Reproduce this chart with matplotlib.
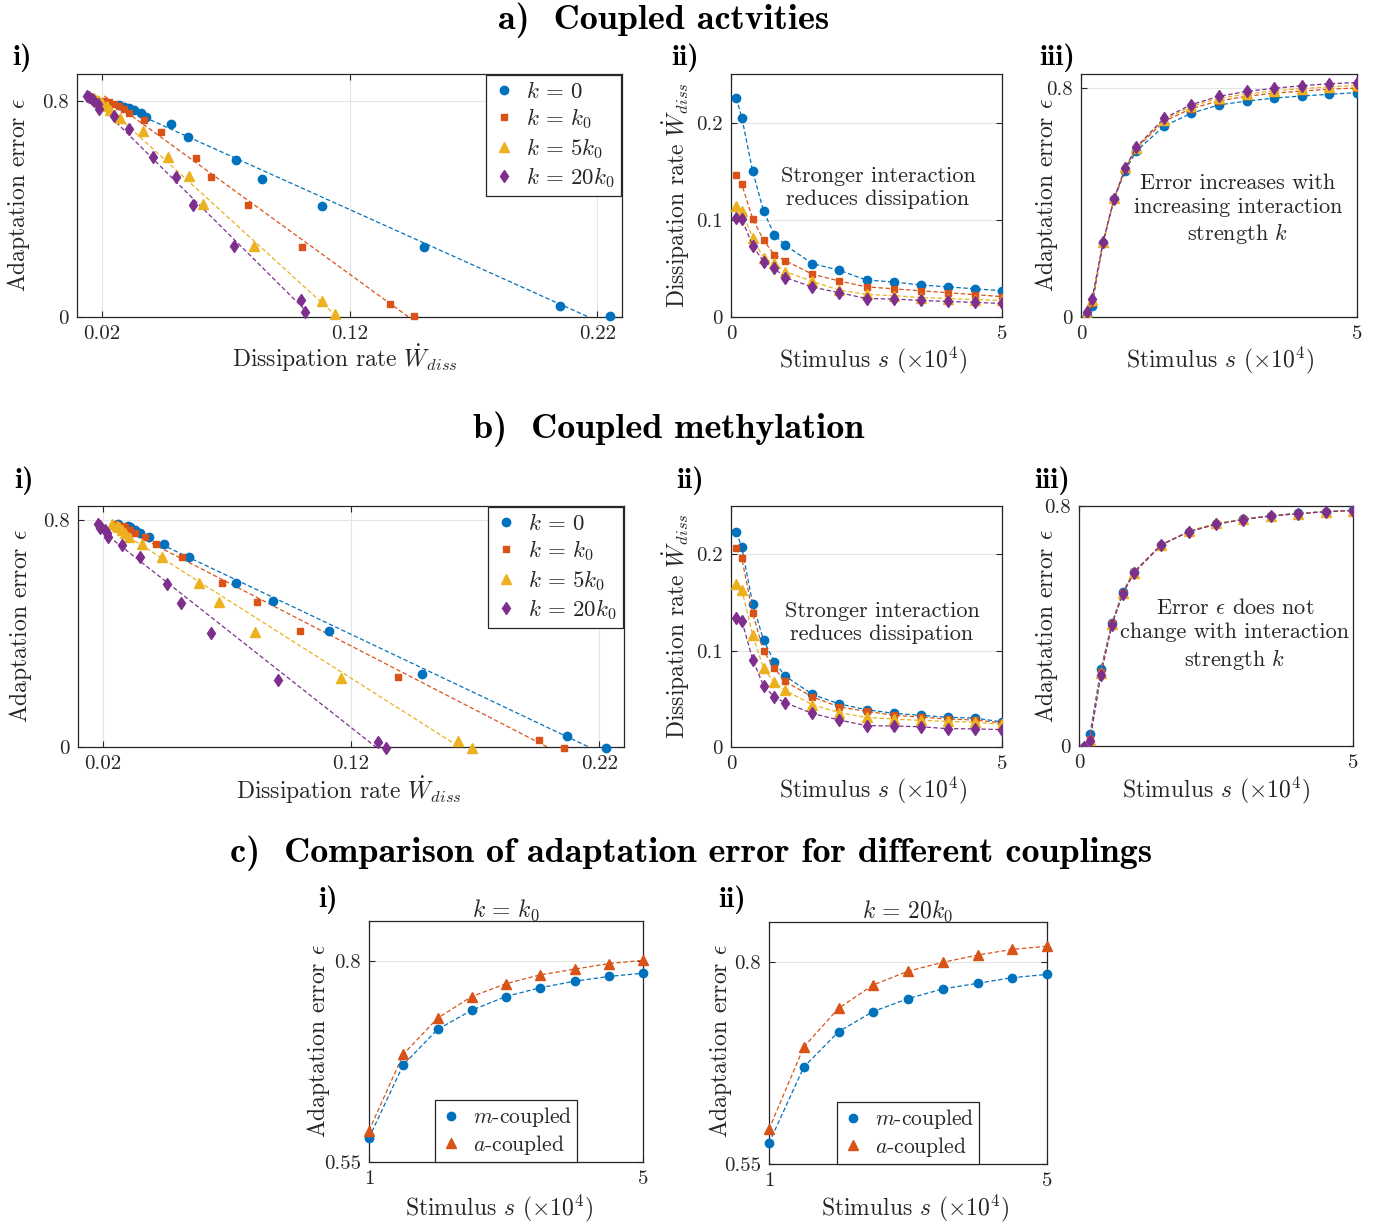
import numpy as np
import matplotlib
matplotlib.use('Agg')
import matplotlib.pyplot as plt

plt.rcParams['font.family'] = ['cmr10']
plt.rcParams['mathtext.fontset'] = 'cm'
plt.rcParams['axes.formatter.use_mathtext'] = True
plt.rcParams['axes.unicode_minus'] = False

# ---------------- data ----------------
stimulus = [0.1, 0.2, 0.4, 0.6, 0.8, 1.0, 1.5, 2.0, 2.5, 3.0, 3.5, 4.0, 4.5, 5.0]
k_labels = [r'$k\,=\,0$', r'$k\,=\,k_0$', r'$k\,=\,5k_0$', r'$k\,=\,20k_0$']

# a) coupled activities: dissipation rate per k
a_wdiss_k0 = [0.225, 0.205, 0.150, 0.109, 0.0845, 0.074, 0.055, 0.048, 0.038, 0.036, 0.033, 0.031, 0.029, 0.027]
a_wdiss_k1 = [0.146, 0.1365, 0.101, 0.079, 0.064, 0.058, 0.044, 0.037, 0.031, 0.029, 0.027, 0.025, 0.023, 0.021]
a_wdiss_k5 = [0.114, 0.109, 0.0813, 0.0607, 0.0553, 0.0467, 0.0367, 0.0275, 0.0233, 0.022, 0.020, 0.019, 0.018, 0.017]
a_wdiss_k20 = [0.102, 0.1005, 0.0734, 0.057, 0.050, 0.0406, 0.0308, 0.025, 0.019, 0.0185, 0.017, 0.016, 0.015, 0.014]
# a) coupled activities: adaptation error per k
a_eps_k0 = [0.002, 0.04, 0.26, 0.412, 0.512, 0.58, 0.667, 0.713, 0.742, 0.755, 0.766, 0.773, 0.779, 0.785]
a_eps_k1 = [0.003, 0.05, 0.26, 0.414, 0.518, 0.589, 0.684, 0.729, 0.756, 0.772, 0.783, 0.790, 0.797, 0.801]
a_eps_k5 = [0.012, 0.058, 0.263, 0.417, 0.523, 0.591, 0.690, 0.737, 0.765, 0.780, 0.791, 0.799, 0.805, 0.810]
a_eps_k20 = [0.018, 0.062, 0.263, 0.414, 0.520, 0.593, 0.695, 0.743, 0.772, 0.789, 0.800, 0.809, 0.816, 0.820]

# b) coupled methylation: dissipation rate per k
b_wdiss_k0 = [0.2228, 0.207, 0.1485, 0.111, 0.0884, 0.0736, 0.0546, 0.0446, 0.0387, 0.035, 0.0328, 0.0308, 0.030, 0.026]
b_wdiss_k1 = [0.206, 0.1956, 0.139, 0.0995, 0.082, 0.068, 0.052, 0.0415, 0.037, 0.033, 0.031, 0.029, 0.028, 0.025]
b_wdiss_k5 = [0.1687, 0.163, 0.116, 0.0815, 0.067, 0.0587, 0.0439, 0.0357, 0.0307, 0.029, 0.0276, 0.0266, 0.0256, 0.0235]
b_wdiss_k20 = [0.134, 0.131, 0.0906, 0.0637, 0.0517, 0.046, 0.0348, 0.0279, 0.0222, 0.0218, 0.021, 0.019, 0.0188, 0.018]
# b) coupled methylation: adaptation error per k
b_eps_k0 = [-0.002, 0.04, 0.256, 0.41, 0.514, 0.580, 0.670, 0.715, 0.741, 0.756, 0.767, 0.776, 0.781, 0.786]
b_eps_k1 = [-0.002, 0.024, 0.247, 0.409, 0.510, 0.580, 0.671, 0.715, 0.739, 0.756, 0.767, 0.775, 0.781, 0.785]
b_eps_k5 = [-0.002, 0.020, 0.245, 0.406, 0.510, 0.577, 0.670, 0.716, 0.742, 0.756, 0.767, 0.775, 0.781, 0.785]
b_eps_k20 = [-0.002, 0.018, 0.238, 0.403, 0.507, 0.576, 0.670, 0.714, 0.739, 0.755, 0.767, 0.774, 0.781, 0.785]

# c) comparison (stimulus >= 1)
c_stimulus = [1.0, 1.5, 2.0, 2.5, 3.0, 3.5, 4.0, 4.5, 5.0]
c_k0_m = [0.580, 0.671, 0.715, 0.739, 0.756, 0.767, 0.775, 0.781, 0.785]
c_k0_a = [0.589, 0.684, 0.729, 0.756, 0.772, 0.783, 0.790, 0.797, 0.801]
c_k20_m = [0.576, 0.670, 0.714, 0.739, 0.755, 0.767, 0.774, 0.781, 0.785]
c_k20_a = [0.593, 0.695, 0.743, 0.772, 0.789, 0.800, 0.809, 0.816, 0.820]
c_labels = [r'$m$-coupled', r'$a$-coupled']

wdiss_ticks = [0.02, 0.12, 0.22]
wdiss_ticklabels = ['0.02', '0.12', '0.22']
eps_ticks = [0, 0.8]
eps_ticklabels = ['0', '0.8']
wrate_ticks = [0, 0.1, 0.2]
wrate_ticklabels = ['0', '0.1', '0.2']
s_ticks = [0, 5]
s_ticklabels = ['0', '5']
c_s_ticks = [1, 5]
c_s_ticklabels = ['1', '5']
c_eps_ticks = [0.55, 0.8]
c_eps_ticklabels = ['0.55', '0.8']

# ---------------- style ----------------
colors = ['#0072BD', '#D95319', '#EDB120', '#7E2F8E']
markers = ['o', 's', '^', 'd']
msizes = [6, 5, 7, 6.5]
DASH = (0, (3.5, 2))
DARK = '#262626'
LABFS = 17
TICKFS = 15

W, H = 1393, 1226
fig = plt.figure(figsize=(W / 100, H / 100), dpi=100)


def px_axes(L, T, R, B):
    return fig.add_axes([L / W, 1 - B / H, (R - L) / W, (B - T) / H])


def style(ax):
    for sp in ax.spines.values():
        sp.set_color(DARK)
        sp.set_linewidth(0.9)
    ax.tick_params(direction='in', length=4, width=0.8, top=True, right=True,
                   colors=DARK, labelsize=TICKFS, pad=6)
    ax.grid(True, color='#e4e4e4', lw=0.8)
    ax.set_axisbelow(True)


def label_px(ax, xl, yl, xpos, ylabx):
    # xpos / ylabx: centres of the labels in pixel coords
    ax.set_xlabel(xl, fontsize=LABFS, color=DARK, va='center')
    ax.set_ylabel(yl, fontsize=LABFS, color=DARK, va='center')
    inv = ax.transAxes.inverted()
    x_ax = inv.transform((xpos[0], H - xpos[1]))
    y_ax = inv.transform((ylabx[0], H - ylabx[1]))
    ax.xaxis.set_label_coords(x_ax[0], x_ax[1])
    ax.yaxis.set_label_coords(y_ax[0], y_ax[1])


def ftext(x, y, s, **kw):
    fig.text(x / W, 1 - y / H, s, **kw)


def make_legend(ax, **kw):
    leg = ax.legend(frameon=True, fancybox=False, edgecolor=DARK, handlelength=1.0,
                    handletextpad=0.5, framealpha=1, **kw)
    leg.get_frame().set_linewidth(0.9)
    for t in leg.get_texts():
        t.set_color(DARK)
    return leg


def panel_i(ax, wlist, elist, ylim):
    for wv, ev, c, m, ms, lab in zip(wlist, elist, colors, markers, msizes, k_labels):
        wv = np.asarray(wv)
        ev = np.asarray(ev)
        coef = np.polyfit(wv, ev, 1)
        x0 = wv.min()
        x1 = min(wv.max(), -coef[1] / coef[0])
        xs = np.array([x0, x1])
        ax.plot(xs, np.polyval(coef, xs), ls=DASH, lw=0.9, color=c, zorder=2)
        ax.plot(wv, ev, ls='none', marker=m, ms=ms, color=c, mec=c,
                clip_on=False, zorder=3, label=lab)
    ax.set_xlim(0.01, 0.23)
    ax.set_ylim(*ylim)
    ax.set_xticks(wdiss_ticks)
    ax.set_xticklabels(wdiss_ticklabels)
    ax.set_yticks(eps_ticks)
    ax.set_yticklabels(eps_ticklabels)
    make_legend(ax, loc='upper right', fontsize=16.5, borderaxespad=0.05,
                labelspacing=0.2, borderpad=0.25)


def panel_s(ax, ylist, ylim, yticks, yticklabels):
    for yv, c, m, ms in zip(ylist, colors, markers, msizes):
        ax.plot(stimulus, yv, ls=DASH, lw=0.9, marker=m, ms=ms, color=c, mec=c, zorder=3)
    ax.set_xlim(0, 5)
    ax.set_ylim(*ylim)
    ax.set_xticks(s_ticks)
    ax.set_xticklabels(s_ticklabels)
    ax.set_yticks(yticks)
    ax.set_yticklabels(yticklabels)


xl_w = r'Dissipation rate $\dot{W}_{diss}$'
yl_eps = r'Adaptation error $\epsilon$'
yl_w = r'Dissipation rate $\dot{W}_{diss}$'
xl_s = r'Stimulus $s$ $(\times 10^4)$'
ANN = dict(ha='center', va='center', fontsize=16, linespacing=1.25, color=DARK)

# ---------------- section a ----------------
ax = px_axes(77, 74, 622, 317)
style(ax)
panel_i(ax, [a_wdiss_k0, a_wdiss_k1, a_wdiss_k5, a_wdiss_k20],
        [a_eps_k0, a_eps_k1, a_eps_k5, a_eps_k20], (0, 0.9))
label_px(ax, xl_w, yl_eps, (345, 358), (19, 195))

ax = px_axes(731, 74, 1002, 317)
style(ax)
panel_s(ax, [a_wdiss_k0, a_wdiss_k1, a_wdiss_k5, a_wdiss_k20], (0, 0.25), wrate_ticks, wrate_ticklabels)
label_px(ax, xl_s, yl_w, (873, 360), (676, 195))
ftext(878, 188, 'Stronger interaction\nreduces dissipation', **ANN)

ax = px_axes(1081, 74, 1357, 317)
style(ax)
panel_s(ax, [a_eps_k0, a_eps_k1, a_eps_k5, a_eps_k20], (0, 0.85), eps_ticks, eps_ticklabels)
label_px(ax, xl_s, yl_eps, (1220, 360), (1047, 195))
ftext(1238, 210, 'Error increases with\nincreasing interaction\nstrength $k$', **ANN)

# ---------------- section b ----------------
ax = px_axes(78, 506, 624, 747)
style(ax)
panel_i(ax, [b_wdiss_k0, b_wdiss_k1, b_wdiss_k5, b_wdiss_k20],
        [b_eps_k0, b_eps_k1, b_eps_k5, b_eps_k20], (0, 0.85))
label_px(ax, xl_w, yl_eps, (349, 790), (20, 626))

ax = px_axes(731, 506, 1002, 747)
style(ax)
panel_s(ax, [b_wdiss_k0, b_wdiss_k1, b_wdiss_k5, b_wdiss_k20], (0, 0.25), wrate_ticks, wrate_ticklabels)
label_px(ax, xl_s, yl_w, (873, 790), (676, 626))
ftext(882, 623, 'Stronger interaction\nreduces dissipation', **ANN)

ax = px_axes(1079, 506, 1353, 746)
style(ax)
panel_s(ax, [b_eps_k0, b_eps_k1, b_eps_k5, b_eps_k20], (0, 0.8), eps_ticks, eps_ticklabels)
label_px(ax, xl_s, yl_eps, (1216, 790), (1046, 626))
ftext(1235, 635, 'Error $\\epsilon$ does not\nchange with interaction\nstrength $k$', **ANN)

# ---------------- section c ----------------
for (L, T, R, B, m_vals, a_vals, title, ylx, xlx) in [
        (369, 921, 643, 1162, c_k0_m, c_k0_a, r'$k\,=\,k_0$', 319, 499),
        (769, 922, 1047, 1164, c_k20_m, c_k20_a, r'$k\,=\,20k_0$', 720, 915)]:
    ax = px_axes(L, T, R, B)
    style(ax)
    for vals, c, m, ms, lab in [(m_vals, colors[0], 'o', 6, c_labels[0]),
                                (a_vals, colors[1], '^', 7, c_labels[1])]:
        ax.plot(c_stimulus, vals, ls=DASH, lw=0.9, color=c, zorder=2)
        ax.plot(c_stimulus, vals, ls='none', marker=m, ms=ms, color=c, zorder=3,
                clip_on=False, label=lab)
    ax.set_xlim(1, 5)
    ax.set_ylim(0.55, 0.85)
    ax.set_xticks(c_s_ticks)
    ax.set_xticklabels(c_s_ticklabels)
    ax.set_yticks(c_eps_ticks)
    ax.set_yticklabels(c_eps_ticklabels)
    ax.set_title(title, fontsize=17, pad=3, color=DARK)
    make_legend(ax, loc='lower center', fontsize=15.5, borderaxespad=0.0,
                labelspacing=0.15, borderpad=0.25)
    label_px(ax, xl_s, yl_eps, (xlx, 1208), (ylx, 1041))

# ---------------- titles & panel labels ----------------
tkw = dict(ha='center', va='baseline', fontsize=26, fontfamily='cmb10', color='black')
ftext(664, 29, 'a)  Coupled actvities', **tkw)
ftext(669, 438, 'b)  Coupled methylation', **tkw)
ftext(691, 862, 'c)  Comparison of adaptation error for different couplings', **tkw)

pkw = dict(ha='left', va='center', fontsize=21, fontfamily='cmb10', color='black')
for x, y, s in [(12, 58, 'i)'), (671, 58, 'ii)'), (1039, 58, 'iii)'),
                (14, 481, 'i)'), (676, 481, 'ii)'), (1034, 481, 'iii)'),
                (318, 900, 'i)'), (718, 900, 'ii)')]:
    ftext(x, y, s, **pkw)

fig.savefig('out.png', dpi=100)
